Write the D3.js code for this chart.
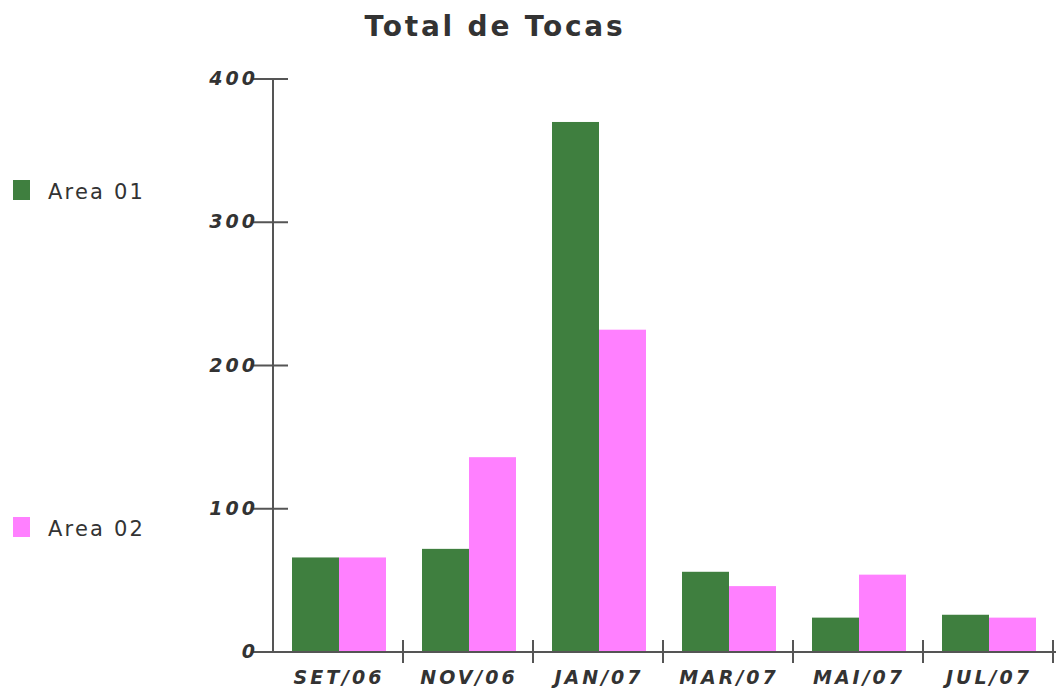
<!DOCTYPE html>
<html>
<head>
<style>
  body { margin: 0; background: #fff; }
  text { font-family: "DejaVu Sans", Verdana, sans-serif; }
</style>
</head>
<body>
<div id="vizDiv"></div>
<script src="https://d3js.org/d3.v7.min.js"></script>
<script>
// chart data
const months = ["SET/06", "NOV/06", "JAN/07", "MAR/07", "MAI/07", "JUL/07"];
const area01 = [66, 72, 370, 56, 24, 26];
const area02 = [66, 136, 225, 46, 54, 24];
const seriesNames = ["Area 01", "Area 02"];
const seriesColors = ["#3f7f3f", "#ff80ff"];
const yTicks = [0, 100, 200, 300, 400];

const width = 1056, height = 689;
const plotLeft = 273, plotRight = 1053, plotTop = 79, plotBottom = 652;

const svg = d3.select("#vizDiv")
  .append("svg")
  .attr("width", width)
  .attr("height", height);

const x = d3.scaleBand().domain(months).range([plotLeft, plotRight]);
const y = d3.scaleLinear().domain([0, 400]).range([plotBottom, plotTop]);
const bw = 47;

// title
svg.append("text")
  .attr("x", 495).attr("y", 36)
  .attr("text-anchor", "middle")
  .style("font-size", "28px").style("font-weight", "bold")
  .style("letter-spacing", "2.8px")
  .style("fill", "#333")
  .text("Total de Tocas");

// bars
const rows = months.map((m, i) => ({ m, vals: [area01[i], area02[i]] }));
const groups = svg.selectAll("g.cat").data(rows).enter().append("g").attr("class", "cat");
groups.selectAll("rect")
  .data(d => d.vals.map((v, j) => ({ m: d.m, v, j })))
  .enter().append("rect")
  .attr("x", d => x(d.m) + 19 + d.j * bw)
  .attr("y", d => y(d.v))
  .attr("width", bw)
  .attr("height", d => plotBottom - y(d.v))
  .attr("fill", d => seriesColors[d.j]);

// y axis
svg.append("line")
  .attr("x1", plotLeft).attr("x2", plotLeft)
  .attr("y1", plotTop).attr("y2", plotBottom)
  .attr("stroke", "#555").attr("stroke-width", 2);
svg.selectAll(".ytick").data(yTicks).enter().append("line")
  .attr("x1", plotLeft - 21).attr("x2", plotLeft + 15)
  .attr("y1", d => y(d)).attr("y2", d => y(d))
  .attr("stroke", "#555").attr("stroke-width", 2);
svg.selectAll(".ylab").data(yTicks).enter().append("text")
  .attr("x", 258).attr("y", d => y(d) + 6)
  .attr("text-anchor", "end")
  .style("font-size", "19px").style("font-weight", "bold").style("font-style", "italic")
  .style("letter-spacing", "3px")
  .style("fill", "#333")
  .text(d => d);

// x axis
svg.append("line")
  .attr("x1", plotLeft).attr("x2", plotRight + 3)
  .attr("y1", plotBottom).attr("y2", plotBottom)
  .attr("stroke", "#555").attr("stroke-width", 2);
svg.selectAll(".xtick").data(months).enter().append("line")
  .attr("x1", d => x(d) + x.bandwidth())
  .attr("x2", d => x(d) + x.bandwidth())
  .attr("y1", plotBottom - 12).attr("y2", plotBottom + 11)
  .attr("stroke", "#555").attr("stroke-width", 2);
svg.selectAll(".xlab").data(months).enter().append("text")
  .attr("x", d => x(d) + x.bandwidth() / 2 + 1)
  .attr("y", 684)
  .attr("text-anchor", "middle")
  .style("font-size", "19px").style("font-weight", "bold").style("font-style", "italic")
  .style("letter-spacing", "3px")
  .style("fill", "#333")
  .text(d => d);

// legend
const legY = [190, 527];
seriesNames.forEach((n, i) => {
  svg.append("rect")
    .attr("x", 13).attr("y", legY[i] - 10)
    .attr("width", 17).attr("height", 20)
    .attr("fill", seriesColors[i]);
  svg.append("text")
    .attr("x", 48).attr("y", legY[i] + 9)
    .style("font-size", "21px")
    .style("letter-spacing", "2.2px")
    .style("fill", "#333")
    .text(n);
});
</script>
</body>
</html>
